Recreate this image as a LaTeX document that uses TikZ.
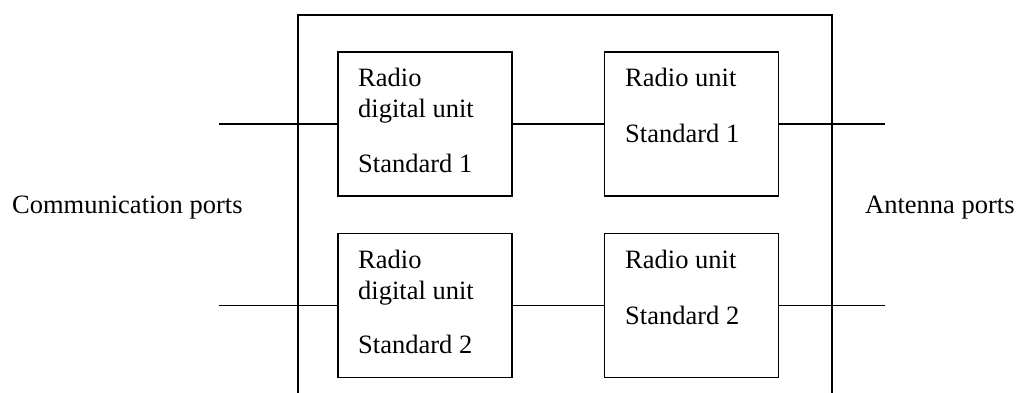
\documentclass[tikz,border=0pt]{standalone}
\usepackage{fontspec}
\setmainfont{Liberation Serif}
\begin{document}
\begin{tikzpicture}[x=1pt,y=-1pt,
  unitbox/.style={draw,line width=1.3pt,rectangle,inner sep=0pt,minimum width=174pt,minimum height=144pt},
  txt/.style={inner sep=0pt,anchor=base west,font=\fontsize{26.5}{30}\selectfont},
  wire/.style={line width=1.3pt}]
\useasboundingbox (0,0) rectangle (1017,392);
% outer enclosure (bottom edge lies outside the picture)
\draw[wire] (298,393) -- (298,15) -- (832,15) -- (832,393);
% boxes
\node[unitbox] (rdu1) at (425,124) {};
\node[unitbox] (ru1) at (691.5,124) {};
\node[unitbox] (rdu2) at (425,305.5) {};
\node[unitbox] (ru2) at (691.5,305.5) {};
% texts
\node[txt] (t1a) at (358,86) {Radio};
\node[txt] (t1b) at (358,117) {digital unit};
\node[txt] (t1c) at (358,172) {Standard 1};
\node[txt] (t2a) at (625,86) {Radio unit};
\node[txt] (t2b) at (625,142) {Standard 1};
\node[txt] (t3a) at (358,268) {Radio};
\node[txt] (t3b) at (358,299) {digital unit};
\node[txt] (t3c) at (358,353) {Standard 2};
\node[txt] (t4a) at (625,268) {Radio unit};
\node[txt] (t4b) at (625,324) {Standard 2};
\node[txt] (comm) at (12,213) {Communication ports};
\node[txt] (ant) at (865,213) {Antenna ports};
% port ends
\coordinate (cp1) at (219,124);
\coordinate (cp2) at (219,305.5);
\coordinate (ap1) at (885,124);
\coordinate (ap2) at (885,305.5);
% connectors
\draw[wire] (cp1) -- (rdu1.west);
\draw[wire] (rdu1.east) -- (ru1.west);
\draw[wire] (ru1.east) -- (ap1);
\draw[wire] (cp2) -- (rdu2.west);
\draw[wire] (rdu2.east) -- (ru2.west);
\draw[wire] (ru2.east) -- (ap2);
\end{tikzpicture}
\end{document}
